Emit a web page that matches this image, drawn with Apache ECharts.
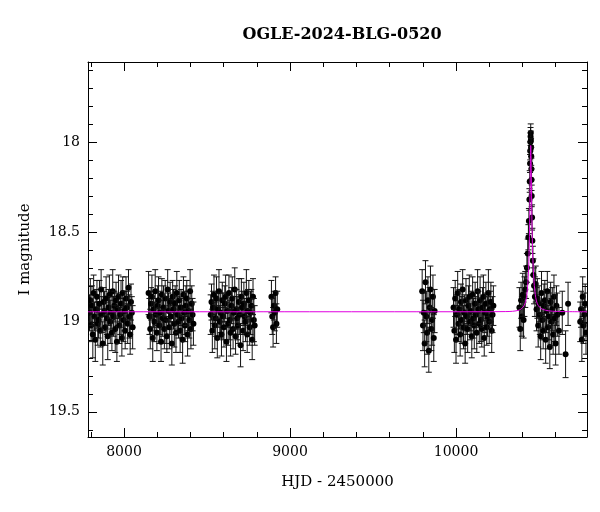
<!DOCTYPE html>
<html><head><meta charset="utf-8">
<script src="https://cdn.jsdelivr.net/npm/echarts@6/dist/echarts.min.js"></script>
<style>html,body{margin:0;background:#fff}#c{width:600px;height:512px}</style>
</head><body><div id="c"></div>
<script>
const title = "OGLE-2024-BLG-0520";
const xTicks = [8000, 9000, 10000];
const xMinor = [7800,8200,8400,8600,8800,9200,9400,9600,9800,10200,10400,10600];
const yTicks = [18, 18.5, 19, 19.5];
const yMinor = [17.6,17.7,17.8,17.9,18.1,18.2,18.3,18.4,18.6,18.7,18.8,18.9,19.1,19.2,19.3,19.4,19.6];
// [HJD-2450000, I mag, error]
const season1 = [[7792,18.95,.10],[7797,18.88,.12],[7802,19.02,.09],[7807,18.91,.11],[7812,19.07,.13],[7817,18.84,.10],[7822,18.97,.08],[7827,19.10,.12],[7832,18.93,.11],[7837,18.86,.09],[7842,19.01,.12],[7847,18.99,.10],[7852,18.90,.13],[7857,19.05,.09],[7862,18.82,.11],[7867,18.96,.10],[7872,19.12,.12],[7877,18.89,.08],[7882,18.94,.11],[7887,19.03,.10],[7892,18.87,.12],[7897,18.98,.09],[7902,19.08,.13],[7907,18.92,.10],[7912,18.85,.11],[7917,19.00,.12],[7922,18.95,.09],[7927,19.06,.10],[7932,18.83,.12],[7937,18.97,.11],[7942,18.91,.08],[7947,19.04,.13],[7952,18.88,.10],[7957,19.11,.11],[7962,18.93,.09],[7967,18.86,.12],[7972,19.02,.10],[7977,18.96,.11],[7982,18.90,.13],[7987,19.09,.10],[7992,18.84,.09],[7997,18.99,.12],[8002,18.94,.11],[8007,19.05,.10],[8012,18.87,.12],[8017,18.92,.09],[8022,19.01,.11],[8027,18.81,.10],[8032,18.97,.12],[8037,19.07,.11],[8042,18.89,.10],[8047,18.95,.09],[8052,19.03,.12]];
const season2 = [[8148,18.84,.12],[8153,18.97,.10],[8158,19.04,.11],[8163,18.90,.09],[8168,18.86,.12],[8173,19.09,.13],[8178,18.93,.10],[8183,19.00,.11],[8188,18.83,.12],[8193,18.96,.09],[8198,19.06,.10],[8203,18.91,.11],[8208,18.88,.13],[8213,19.02,.10],[8218,18.95,.12],[8223,19.11,.11],[8228,18.85,.09],[8233,18.98,.10],[8238,18.92,.12],[8243,19.04,.11],[8248,18.87,.10],[8253,18.99,.13],[8258,19.08,.09],[8263,18.82,.11],[8268,18.94,.10],[8273,19.03,.12],[8278,18.89,.11],[8283,18.97,.10],[8288,19.12,.12],[8293,18.86,.09],[8298,18.93,.11],[8303,19.01,.13],[8308,18.90,.10],[8313,19.06,.11],[8318,18.84,.12],[8323,18.96,.10],[8328,19.00,.09],[8333,18.88,.11],[8338,19.05,.12],[8343,18.92,.10],[8348,18.98,.11],[8353,19.10,.13],[8358,18.85,.10],[8363,18.95,.12],[8368,19.02,.09],[8373,18.91,.11],[8378,18.87,.10],[8383,19.07,.12],[8388,18.94,.11],[8393,18.99,.10],[8398,18.83,.12],[8403,19.04,.11],[8408,18.90,.10],[8413,18.96,.09],[8418,19.01,.12]];
const season3 = [[8522,18.96,.11],[8527,18.89,.10],[8532,19.05,.12],[8537,18.92,.09],[8542,18.85,.11],[8547,19.02,.13],[8552,18.98,.10],[8557,18.87,.12],[8562,19.09,.11],[8567,18.93,.10],[8572,18.83,.12],[8577,19.00,.09],[8582,18.95,.11],[8587,19.07,.12],[8592,18.88,.10],[8597,18.97,.13],[8602,19.03,.11],[8607,18.90,.10],[8612,18.86,.12],[8617,19.11,.11],[8622,18.94,.09],[8627,19.01,.12],[8632,18.84,.10],[8637,18.99,.11],[8642,19.06,.13],[8647,18.91,.10],[8652,18.87,.12],[8657,19.04,.11],[8662,18.95,.09],[8667,18.82,.12],[8672,19.08,.10],[8677,18.93,.11],[8682,18.98,.12],[8687,19.02,.10],[8692,18.89,.13],[8697,18.96,.11],[8702,19.13,.12],[8707,18.86,.10],[8712,18.92,.09],[8717,19.05,.11],[8722,18.90,.12],[8727,18.97,.10],[8732,19.00,.11],[8737,18.84,.13],[8742,19.07,.10],[8747,18.94,.12],[8752,18.88,.11],[8757,19.03,.10],[8762,18.95,.12],[8767,18.91,.09],[8772,19.10,.11],[8777,18.86,.10],[8782,18.99,.12],[8787,19.02,.11]];
const season4 = [[8888,18.86,.09],[8893,18.97,.10],[8898,19.03,.11],[8903,18.91,.08],[8908,18.95,.10],[8913,18.84,.09],[8918,19.01,.11],[8923,18.93,.10]];
const season5 = [[9796,18.83,.12],[9801,19.02,.14],[9806,18.95,.11],[9811,19.12,.13],[9816,18.78,.12],[9821,18.97,.14],[9826,19.06,.12],[9831,18.88,.13],[9836,19.16,.12],[9841,18.92,.11],[9846,18.82,.13],[9851,19.04,.12],[9856,18.99,.14],[9861,18.86,.12],[9866,19.09,.13],[9871,18.94,.12]];
const season6 = [[9985,18.92,.11],[9990,19.05,.12],[9995,18.87,.10],[10000,19.10,.13],[10005,18.96,.11],[10010,18.84,.12],[10015,19.01,.10],[10020,18.93,.11],[10025,19.07,.12],[10030,18.89,.10],[10035,18.99,.13],[10040,18.82,.11],[10045,19.03,.12],[10050,18.95,.10],[10055,19.12,.11],[10060,18.88,.12],[10065,18.97,.10],[10070,19.04,.13],[10075,18.91,.11],[10080,18.86,.12],[10085,19.00,.10],[10090,18.94,.11],[10095,19.08,.12],[10100,18.85,.10],[10105,18.98,.11],[10110,19.02,.13],[10115,18.90,.12],[10120,18.96,.10],[10125,19.06,.11],[10130,18.83,.12],[10135,18.93,.10],[10140,19.01,.11],[10145,18.88,.13],[10150,18.99,.12],[10155,19.04,.10],[10160,18.92,.11],[10165,18.86,.12],[10170,19.09,.10],[10175,18.95,.11],[10180,18.90,.12],[10185,19.03,.10],[10190,18.97,.11],[10195,18.84,.13],[10200,19.00,.12],[10205,18.93,.10],[10210,18.89,.11],[10215,19.05,.12],[10220,18.96,.10],[10225,18.91,.11]];
const season7 = [[10382,18.92,.11],[10387,19.04,.12],[10392,18.88,.10],[10397,18.97,.11],[10402,18.85,.12],[10407,18.99,.10],[10412,18.86,.11],[10417,18.82,.10],[10422,18.78,.09],[10427,18.70,.08],[10432,18.62,.08],[10436,18.53,.07],[10439,18.44,.07],[10442,18.32,.06],[10444,18.22,.06],[10446,18.12,.05],[10447,18.05,.05],[10448,18.00,.05],[10449,17.97,.05],[10450,17.95,.05],[10451,17.99,.05],[10452,18.03,.05],[10453,18.08,.05],[10454,18.15,.06],[10455,18.21,.06],[10456,18.30,.06],[10458,18.42,.07],[10460,18.55,.07],[10463,18.66,.08],[10466,18.74,.09],[10470,18.80,.10],[10475,18.86,.11],[10480,18.79,.10],[10485,18.93,.12],[10490,18.87,.11],[10495,19.02,.12],[10500,18.90,.10],[10505,18.96,.11],[10510,19.08,.13],[10515,18.84,.12],[10520,18.99,.11],[10525,19.05,.10],[10530,18.91,.12],[10535,18.88,.11],[10540,19.10,.13],[10545,18.94,.12],[10550,18.83,.11],[10555,19.03,.12],[10560,18.97,.13],[10565,19.14,.12],[10570,18.89,.11],[10575,19.00,.13],[10580,18.93,.12],[10585,19.07,.11],[10590,18.86,.12],[10595,18.98,.13],[10600,19.12,.12],[10605,18.91,.11],[10610,18.96,.12],[10620,19.05,.13],[10640,18.95,.12],[10660,19.18,.13],[10675,18.90,.12]];
const season8 = [[10748,19.00,.11],[10753,18.93,.10],[10758,19.10,.12],[10763,18.86,.11],[10768,19.02,.10],[10773,18.96,.12],[10778,18.90,.11],[10783,19.06,.12]];
const modelT = [7783,9000,10000,10300,10380,10410,10425,10435,10441,10445,10448,10450,10452,10455,10459,10465,10475,10490,10520,10600,10789];
const modelM = [18.944,18.944,18.944,18.943,18.935,18.91,18.86,18.75,18.58,18.35,18.12,18.02,18.10,18.30,18.52,18.70,18.83,18.90,18.93,18.942,18.944];

const obs = [].concat(season1,season2,season3,season4,season5,season6,season7,season8);
const chart = echarts.init(document.getElementById('c'));
const serif = 'DejaVu Serif';
const XMIN=7783,XMAX=10789,YMIN=17.556,YMAX=19.64;
function xa(pos,vals,len,label,line){return {type:'value',position:pos,min:XMIN,max:XMAX,
  axisLine:{show:line,lineStyle:{color:'#000',width:1}},splitLine:{show:false},
  axisTick:{inside:true,length:len,customValues:vals,lineStyle:{color:'#000'}},
  axisLabel:label?{fontFamily:serif,fontSize:14,color:'#000',customValues:vals,formatter:v=>String(v)}:{show:false}};}
function ya(pos,vals,len,label,line){return {type:'value',position:pos,inverse:true,min:YMIN,max:YMAX,
  axisLine:{show:line,lineStyle:{color:'#000',width:1}},splitLine:{show:false},
  axisTick:{inside:true,length:len,customValues:vals,lineStyle:{color:'#000'}},
  axisLabel:label?{fontFamily:serif,fontSize:14,color:'#000',customValues:vals,formatter:v=>String(+v.toFixed(1))}:{show:false}};}
const x0=xa('bottom',xTicks,9,true,true);
Object.assign(x0,{name:'HJD - 2450000',nameLocation:'middle',nameGap:38,nameTextStyle:{fontFamily:serif,fontSize:15,color:'#000'}});
const y0=ya('left',yTicks,9,true,true);
Object.assign(y0,{name:'I magnitude',nameLocation:'middle',nameGap:55,nameTextStyle:{fontFamily:serif,fontSize:15,color:'#000'}});
chart.setOption({
  animation:false,
  title:{text:title,left:337,top:22,textAlign:'center',textStyle:{fontFamily:serif,fontSize:16,fontWeight:'bold',color:'#000'}},
  grid:{left:88,right:13,top:62,bottom:75},
  xAxis:[x0,xa('top',xTicks,9,false,true),xa('bottom',xMinor,5,false,false),xa('top',xMinor,5,false,false)],
  yAxis:[y0,ya('right',yTicks,9,false,true),ya('left',yMinor,5,false,false),ya('right',yMinor,5,false,false)],
  series:[
   {type:'custom',xAxisIndex:0,yAxisIndex:0,data:obs,clip:true,
    renderItem:(p,api)=>{
      const t=api.value(0),m=api.value(1),e=api.value(2);
      const c=api.coord([t,m]),a=api.coord([t,m-e]),b=api.coord([t,m+e]);
      const st={stroke:'#111',lineWidth:1};
      return {type:'group',children:[
        {type:'line',shape:{x1:c[0],y1:a[1],x2:c[0],y2:b[1]},style:st},
        {type:'line',shape:{x1:c[0]-3,y1:a[1],x2:c[0]+3,y2:a[1]},style:st},
        {type:'line',shape:{x1:c[0]-3,y1:b[1],x2:c[0]+3,y2:b[1]},style:st},
        {type:'circle',shape:{cx:c[0],cy:c[1],r:3},style:{fill:'#000'}}]};
    }},
   {type:'line',xAxisIndex:0,yAxisIndex:0,data:modelT.map((t,i)=>[t,modelM[i]]),symbol:'none',smooth:0.3,
    lineStyle:{color:'#e000e0',width:1},z:5}
  ]
});
</script></body></html>
